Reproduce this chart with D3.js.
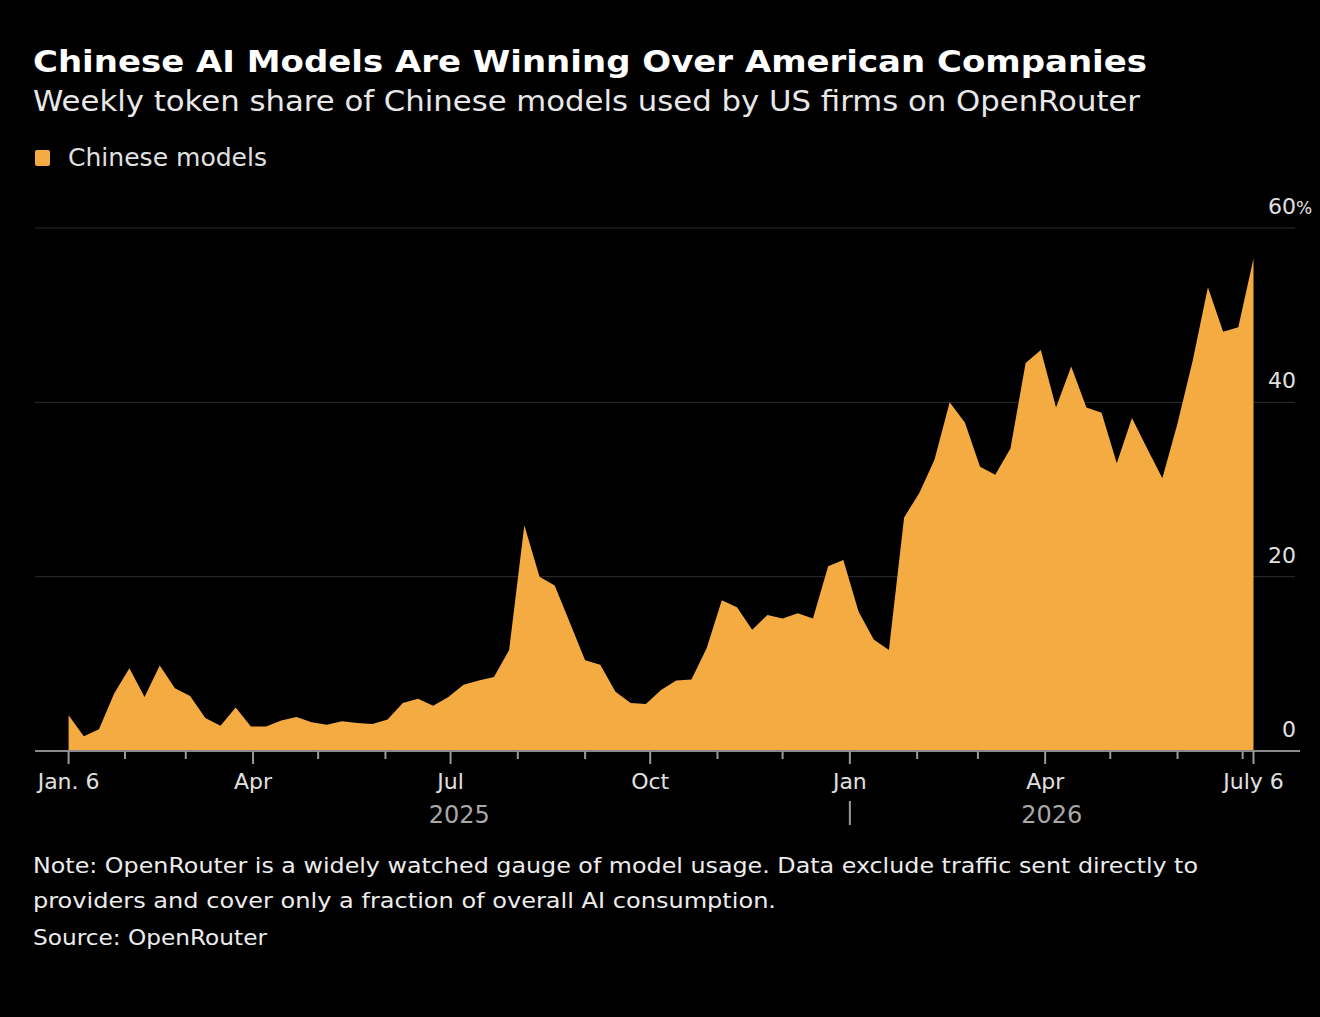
<!DOCTYPE html>
<html>
<head>
<meta charset="utf-8">
<script src="https://cdn.jsdelivr.net/npm/d3@7"></script>
<style>
  body { margin: 0; background: #000; }
  text { font-family: "DejaVu Sans", sans-serif; }
</style>
</head>
<body>
<svg id="chart" width="1320" height="1017"></svg>
<script>
// weekly token share of Chinese models (%), first week Jan 6 2025
var firstWeek = "2025-01-06"
var lastWeek = "2026-07-06"
var shares = [
  4.1, 1.7, 2.5, 6.6, 9.5, 6.2, 9.8, 7.2, 6.3, 3.8,
  2.9, 5.0, 2.8, 2.8, 3.5, 3.9, 3.3, 3.0, 3.4, 3.2,
  3.1, 3.6, 5.5, 6.0, 5.2, 6.2, 7.6, 8.1, 8.5, 11.6,
  25.9, 20.0, 19.0, 14.7, 10.4, 9.9, 6.8, 5.5, 5.4, 7.0,
  8.1, 8.2, 11.8, 17.3, 16.5, 13.9, 15.6, 15.2, 15.8, 15.2,
  21.2, 21.9, 16.0, 12.8, 11.6, 26.8, 29.6, 33.4, 40.0, 37.7,
  32.6, 31.7, 34.7, 44.5, 46.0, 39.4, 44.1, 39.4, 38.8, 33.0,
  38.2, 34.7, 31.3, 37.6, 44.8, 53.2, 48.1, 48.6, 56.5
]
var yTicks = [0, 20, 40, 60]
var xLabelDates = ["2025-01-06", "2025-04-01", "2025-07-01", "2025-10-01", "2026-01-01", "2026-04-01", "2026-07-06"]
var xLabelTexts = ["Jan. 6", "Apr", "Jul", "Oct", "Jan", "Apr", "July 6"]
var yearDates = ["2025-07-05", "2026-04-04"]
var yearTexts = ["2025", "2026"]
var seriesName = "Chinese models"

var parse = d3.timeParse("%Y-%m-%d")
var start = parse(firstWeek)
var end = parse(lastWeek)
var data = shares.map(function(v, i) {
  return { date: d3.timeWeek.offset(start, i), value: v }
})

var svg = d3.select("#chart")
var orange = "#f3ab42"

var x = d3.scaleTime().domain([start, end]).range([68.6, 1253.5])
var y = d3.scaleLinear().domain([0, 60]).range([751, 228])

// titles
svg.append("text")
  .attr("x", 33).attr("y", 72)
  .attr("fill", "#fff")
  .attr("font-size", 30).attr("font-weight", "bold")
  .attr("textLength", 1114).attr("lengthAdjust", "spacingAndGlyphs")
  .text("Chinese AI Models Are Winning Over American Companies")

svg.append("text")
  .attr("x", 33).attr("y", 111)
  .attr("fill", "#e8e8e8")
  .attr("font-size", 29)
  .attr("textLength", 1107).attr("lengthAdjust", "spacingAndGlyphs")
  .text("Weekly token share of Chinese models used by US firms on OpenRouter")

// legend
svg.append("rect")
  .attr("x", 35).attr("y", 150).attr("width", 15).attr("height", 16)
  .attr("rx", 2).attr("fill", orange)
svg.append("text")
  .attr("x", 68).attr("y", 166)
  .attr("fill", "#e0e0e0")
  .attr("font-size", 24)
  .attr("textLength", 199).attr("lengthAdjust", "spacingAndGlyphs")
  .text(seriesName)

// gridlines
svg.append("g").selectAll("line")
  .data(yTicks.filter(function(d) { return d > 0 }))
  .enter().append("line")
  .attr("x1", 35).attr("x2", 1295)
  .attr("y1", function(d) { return y(d) }).attr("y2", function(d) { return y(d) })
  .attr("stroke", "#2e2e2e").attr("stroke-width", 1)

// area
var area = d3.area()
  .x(function(d) { return x(d.date) })
  .y0(y(0))
  .y1(function(d) { return y(d.value) })

svg.append("path")
  .datum(data)
  .attr("fill", orange)
  .attr("d", area)

// baseline
svg.append("line")
  .attr("x1", 35).attr("x2", 1300)
  .attr("y1", y(0)).attr("y2", y(0))
  .attr("stroke", "#8a8a8a").attr("stroke-width", 2)

// y labels, the % hangs past the number column
var yLab = svg.append("g").selectAll("g")
  .data(yTicks)
  .enter().append("g")
yLab.append("text")
  .attr("x", 1296)
  .attr("y", function(d) { return y(d) - 14 })
  .attr("text-anchor", "end")
  .attr("fill", "#e0e0e0")
  .attr("font-size", 22)
  .text(function(d) { return d })
yLab.filter(function(d) { return d == 60 })
  .append("text")
  .attr("x", 1296)
  .attr("y", function(d) { return y(d) - 14 })
  .attr("fill", "#e0e0e0")
  .attr("font-size", 17)
  .text("%")

// x ticks: monthly minor, labelled major
var monthTicks = d3.timeMonth.range(d3.timeMonth.ceil(start), end)
var majorDates = xLabelDates.map(parse)
var isMajor = function(d) {
  return majorDates.some(function(m) { return +m == +d })
}
var allTicks = monthTicks.concat([start, end])

svg.append("g").selectAll("line")
  .data(allTicks)
  .enter().append("line")
  .attr("x1", function(d) { return x(d) }).attr("x2", function(d) { return x(d) })
  .attr("y1", y(0))
  .attr("y2", function(d) { return y(0) + (isMajor(d) ? 13 : 8) })
  .attr("stroke", "#9a9a9a").attr("stroke-width", 2)

svg.append("g").selectAll("text")
  .data(xLabelDates)
  .enter().append("text")
  .attr("x", function(d) { return x(parse(d)) })
  .attr("y", 789)
  .attr("text-anchor", "middle")
  .attr("fill", "#e0e0e0")
  .attr("font-size", 22)
  .text(function(d, i) { return xLabelTexts[i] })

svg.append("g").selectAll("text")
  .data(yearDates)
  .enter().append("text")
  .attr("x", function(d) { return x(parse(d)) })
  .attr("y", 823)
  .attr("text-anchor", "middle")
  .attr("fill", "#a8a8a8")
  .attr("font-size", 24)
  .text(function(d, i) { return yearTexts[i] })

// year separator
svg.append("line")
  .attr("x1", x(parse("2026-01-01"))).attr("x2", x(parse("2026-01-01")))
  .attr("y1", 801).attr("y2", 825)
  .attr("stroke", "#9a9a9a").attr("stroke-width", 2)

// notes
var notes = [
  { t: "Note: OpenRouter is a widely watched gauge of model usage. Data exclude traffic sent directly to", y: 873, w: 1165 },
  { t: "providers and cover only a fraction of overall AI consumption.", y: 908, w: 743 },
  { t: "Source: OpenRouter", y: 945, w: 234 }
]
svg.append("g").selectAll("text")
  .data(notes)
  .enter().append("text")
  .attr("x", 33)
  .attr("y", function(d) { return d.y })
  .attr("fill", "#ececec")
  .attr("font-size", 22)
  .attr("textLength", function(d) { return d.w })
  .attr("lengthAdjust", "spacingAndGlyphs")
  .text(function(d) { return d.t })
</script>
</body>
</html>
